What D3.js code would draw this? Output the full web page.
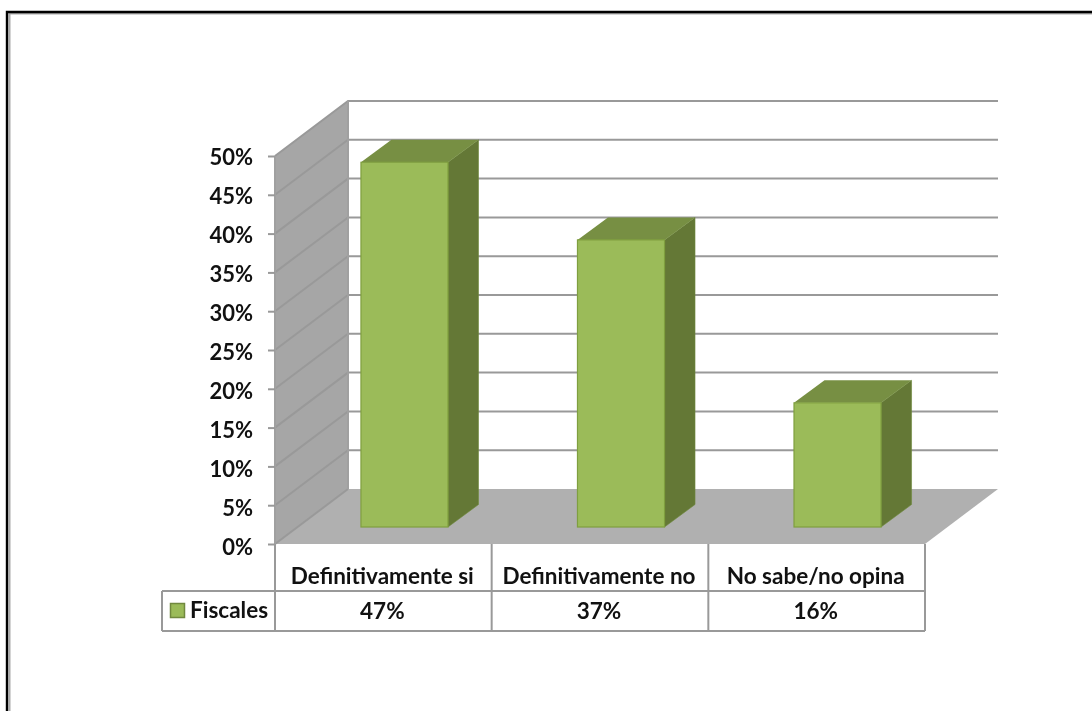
<!DOCTYPE html>
<html><head><meta charset="utf-8">
<script src="https://cdnjs.cloudflare.com/ajax/libs/d3/7.8.5/d3.min.js"></script>
<style>html,body{margin:0;padding:0;background:#fff}svg{display:block;filter:blur(0.45px)}text{font-family:Lato,"Open Sans",sans-serif;font-weight:700;fill:#111}</style>
</head><body><svg id="c" width="1092" height="711"></svg>
<script>
const categories = ["Definitivamente si","Definitivamente no","No sabe/no opina"];
const seriesName = "Fiscales";
const values = [47,37,16];
const ticks = [0,5,10,15,20,25,30,35,40,45,50];

const svg = d3.select("#c");
// page border
svg.append("path").attr("d","M9.5,711V13.5H1092").attr("fill","none").attr("stroke","#aaa").attr("stroke-width",2);
svg.append("path").attr("d","M7,711V12H1092").attr("fill","none").attr("stroke","#000").attr("stroke-width",2.4);

const X0=275,X1=925,Y0=544,Y50=156,DX=73,DY=55,grid="#999999";
const y=d3.scaleLinear().domain([0,50]).range([Y0,Y50]);
const labelDy=d3.scaleLinear().domain([0,50]).range([10,8]);
const xCell=d3.scaleBand().domain(categories).range([X0,X1]);
const barDX=21,barDY=17,depthX=30.5,depthY=22.5;
const xBar=d3.scaleBand().domain(categories).range([X0+barDX,X1+barDX]).paddingInner(0.598).paddingOuter(0.3);
const poly=p=>p.map(a=>a.join(",")).join(" ");

// side wall + floor
svg.append("polygon").attr("points",poly([[X0,Y0],[X0+DX,Y0-DY],[X0+DX,Y50-DY],[X0,Y50]])).attr("fill","#a6a6a6");
svg.append("polygon").attr("points",poly([[X0,Y0],[X1,Y0],[X1+DX,Y0-DY],[X0+DX,Y0-DY]])).attr("fill","#b0b0b0");

// gridlines
svg.append("g").selectAll("path").data(ticks).join("path")
  .attr("d",t=>`M${X0},${y(t)}L${X0+DX},${y(t)-DY}`+(t>0?`H${X1+DX}`:""))
  .attr("fill","none").attr("stroke",grid).attr("stroke-width",2);
svg.append("path").attr("d",`M${X0},${Y0}V${Y50}M${X0+DX},${Y0-DY}V${Y50-DY}`).attr("fill","none").attr("stroke","#a0a0a0").attr("stroke-width",2);

// y axis
const ax=svg.append("g").attr("transform",`translate(${X0},0)`)
  .call(d3.axisLeft(y).tickValues(ticks).tickFormat(d=>d+"%").tickSize(7).tickPadding(15));
ax.select(".domain").remove();
ax.selectAll("line").attr("stroke",grid).attr("stroke-width",2);
ax.selectAll("text").attr("font-size",22).attr("dy",d=>labelDy(d)+"px").attr("fill","#111");

// bars
const bars=svg.append("g").selectAll("g").data(values).join("g");
const bx=(i)=>xBar(categories[i]), bw=xBar.bandwidth(), by=v=>y(v)-barDY, bb=y(0)-barDY;
bars.append("polygon").attr("points",(v,i)=>poly([[bx(i)+bw,by(v)],[bx(i)+bw+depthX,by(v)-depthY],[bx(i)+bw+depthX,bb-depthY],[bx(i)+bw,bb]])).attr("fill","#647836").attr("stroke","#6f8a3c").attr("stroke-width",.6);
bars.append("polygon").attr("points",(v,i)=>poly([[bx(i),by(v)],[bx(i)+depthX,by(v)-depthY],[bx(i)+bw+depthX,by(v)-depthY],[bx(i)+bw,by(v)]])).attr("fill","#778f43");
bars.append("rect").attr("x",(v,i)=>bx(i)).attr("y",v=>by(v)).attr("width",bw).attr("height",v=>bb-by(v)).attr("fill","#9bbb59").attr("stroke","#7f9f3f").attr("stroke-width",1.2);

// data table
const T1=591,T2=631,TL=162,tc="#999";
const tbl=svg.append("g").attr("fill","none").attr("stroke",tc).attr("stroke-width",2);
tbl.append("path").attr("d",`M${TL},${T1}H${X1}M${TL},${T2}H${X1}M${TL},${T1}V${T2}`);
tbl.selectAll("line").data(d3.range(4)).join("line")
  .attr("x1",i=>X0+i*xCell.step()).attr("x2",i=>X0+i*xCell.step()).attr("y1",Y0).attr("y2",T2);
svg.append("g").selectAll("text").data(categories).join("text")
  .attr("x",d=>xCell(d)+xCell.bandwidth()/2-1).attr("y",584).attr("text-anchor","middle").attr("font-size",22.5).text(d=>d);
svg.append("g").selectAll("text").data(values).join("text")
  .attr("x",(v,i)=>xCell(categories[i])+xCell.bandwidth()/2-1).attr("y",619).attr("text-anchor","middle").attr("font-size",22.5).text(v=>v+"%");
svg.append("rect").attr("x",170.5).attr("y",603.5).attr("width",14).attr("height",14).attr("fill","#9bbb59").attr("stroke","#71893f").attr("stroke-width",1.5);
svg.append("text").attr("x",190).attr("y",618).attr("font-size",22.5).text(seriesName);
</script></body></html>
